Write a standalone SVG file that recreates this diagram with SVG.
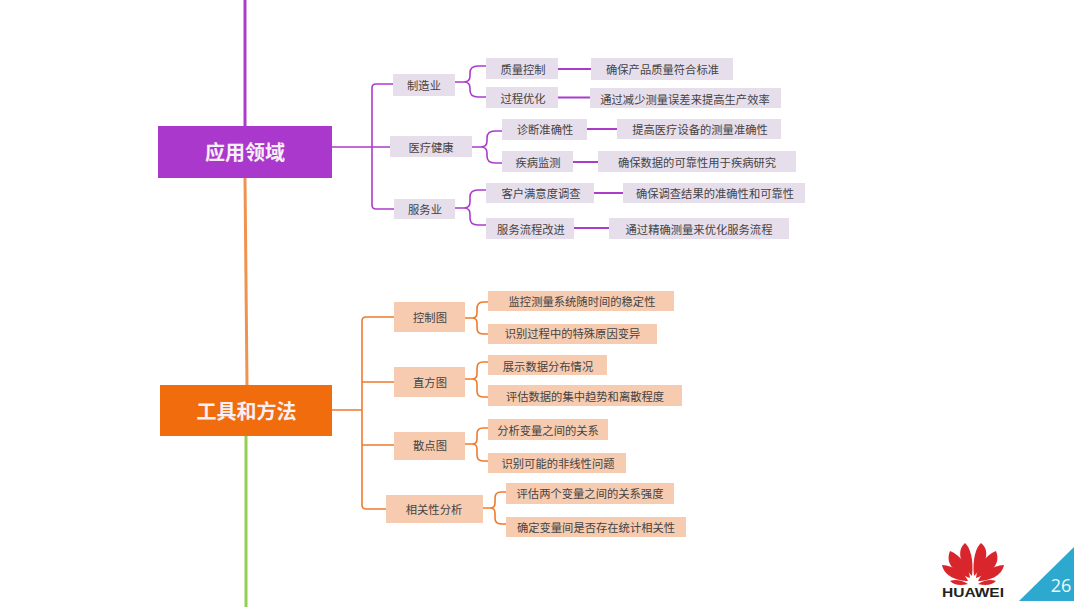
<svg xmlns="http://www.w3.org/2000/svg" width="1080" height="607" viewBox="0 0 1080 607">
<style>
text{font-family:"Noto Sans CJK SC","Liberation Sans",sans-serif;text-anchor:middle;dominant-baseline:central}
.p rect{fill:#e7deec}.o rect{fill:#f6cbb0}
.n text{font-size:11.3px;fill:#444;transform:translateY(-0.5px)}
.m text{font-size:20px;font-weight:700;fill:#f6f0f6}
.c{fill:none;stroke-linejoin:round}
.cp{stroke:#ab3ccb;stroke-width:1.6}.co{stroke:#ee7a2e;stroke-width:1.6}
.pth{stroke-width:2}
</style>
<rect width="1080" height="607" fill="#fff"/>
<g id="connectors">
<path class="c" d="M245 0V126" stroke="#ab3ccb" stroke-width="3"/>
<path class="c" d="M245 178L247 385" stroke="#f0934f" stroke-width="3"/>
<path class="c" d="M246 436V607" stroke="#94cf55" stroke-width="3"/>
<g class="c cp">
<path d="M332 147H390M393 84H376Q372 84 372 88V205Q372 209 376 209H394"/>
<path d="M455 82H464Q470 82 470 76V73Q470 66 478 66H486M464 82Q470 82 470 88V90Q470 97 478 97H486"/>
<path d="M472 147H481Q487 147 487 141V138Q487 131 495 131H502M481 147Q487 147 487 153V156Q487 163 495 163H502"/>
<path d="M455 208H464Q470 208 470 202V197Q470 190 478 190H486M464 208Q470 208 470 214V218Q470 225 478 225H486"/>
<path class="pth" d="M558 69H591M558 97.500H590M587 129H617M573 162H598M594 193H623M574 228H609"/>
</g>
<g class="c co">
<path d="M332 410H362M394 317H366Q362 317 362 321V505Q362 509 366 509H386M362 382H394M362 445H394"/>
<path d="M465 318H472Q477 318 477 313V309Q477 302 483 302H488M472 318Q477 318 477 323V328Q477 334 483 334H488"/>
<path d="M465 379H472Q477 379 477 374V368Q477 362 483 362H488M472 379Q477 379 477 384V391Q477 397 483 397H488"/>
<path d="M465 444H472Q477 444 477 439V434Q477 428 483 428H488M472 444Q477 444 477 449V455Q477 461 483 461H488"/>
<path d="M483 508H490Q495 508 495 503V498Q495 492 501 492H506M490 508Q495 508 495 513V518Q495 524 501 524H506"/>
</g>
</g>
<g id="root-app" class="m"><rect x="158" y="126" width="174" height="52" fill="#ab38cc"/><text x="245" y="151">应用领域</text></g>
<g id="root-tools" class="m"><rect x="160" y="385" width="172" height="51" fill="#f06c0c"/><text x="246.500" y="410">工具和方法</text></g>
<g id="n1" class="n p"><rect x="393" y="74" width="62" height="22"/><text x="424" y="85">制造业</text></g>
<g id="n2" class="n p"><rect x="486" y="58" width="72" height="21"/><text x="523" y="69">质量控制</text></g>
<g id="n3" class="n p"><rect x="591" y="58" width="142" height="22"/><text x="662.500" y="69">确保产品质量符合标准</text></g>
<g id="n4" class="n p"><rect x="486" y="87" width="72" height="21"/><text x="523" y="98">过程优化</text></g>
<g id="n5" class="n p"><rect x="590" y="88" width="191" height="20"/><text x="685" y="99">通过减少测量误差来提高生产效率</text></g>
<g id="n6" class="n p"><rect x="390" y="136" width="82" height="21"/><text x="431" y="147">医疗健康</text></g>
<g id="n7" class="n p"><rect x="502" y="119" width="85" height="21"/><text x="545" y="129">诊断准确性</text></g>
<g id="n8" class="n p"><rect x="617" y="119" width="164" height="20"/><text x="700" y="129">提高医疗设备的测量准确性</text></g>
<g id="n9" class="n p"><rect x="502" y="151" width="71" height="21"/><text x="538" y="162">疾病监测</text></g>
<g id="n10" class="n p"><rect x="598" y="151" width="198" height="21"/><text x="697" y="162">确保数据的可靠性用于疾病研究</text></g>
<g id="n11" class="n p"><rect x="394" y="199" width="61" height="20"/><text x="425" y="209">服务业</text></g>
<g id="n12" class="n p"><rect x="486" y="183" width="108" height="20"/><text x="541" y="193">客户满意度调查</text></g>
<g id="n13" class="n p"><rect x="623" y="183" width="182" height="20"/><text x="715" y="193">确保调查结果的准确性和可靠性</text></g>
<g id="n14" class="n p"><rect x="486" y="218" width="88" height="21"/><text x="531" y="229">服务流程改进</text></g>
<g id="n15" class="n p"><rect x="609" y="218" width="180" height="21"/><text x="699" y="229">通过精确测量来优化服务流程</text></g>
<g id="t1" class="n o"><rect x="394" y="302" width="71" height="30"/><text x="430" y="317">控制图</text></g>
<g id="t2" class="n o"><rect x="488" y="291" width="186" height="20"/><text x="582" y="301">监控测量系统随时间的稳定性</text></g>
<g id="t3" class="n o"><rect x="488" y="324" width="169" height="20"/><text x="572.500" y="333">识别过程中的特殊原因变异</text></g>
<g id="t4" class="n o"><rect x="394" y="367" width="71" height="30"/><text x="430" y="382">直方图</text></g>
<g id="t5" class="n o"><rect x="488" y="355" width="119" height="20"/><text x="548" y="366">展示数据分布情况</text></g>
<g id="t6" class="n o"><rect x="488" y="385" width="194" height="21"/><text x="585" y="396">评估数据的集中趋势和离散程度</text></g>
<g id="t7" class="n o"><rect x="394" y="432" width="71" height="28"/><text x="430" y="445">散点图</text></g>
<g id="t8" class="n o"><rect x="488" y="419" width="120" height="21"/><text x="548" y="430">分析变量之间的关系</text></g>
<g id="t9" class="n o"><rect x="488" y="453" width="138" height="20"/><text x="558" y="463">识别可能的非线性问题</text></g>
<g id="t10" class="n o"><rect x="386" y="495" width="97" height="28"/><text x="434" y="509">相关性分析</text></g>
<g id="t11" class="n o"><rect x="506" y="483" width="168" height="21"/><text x="590" y="493">评估两个变量之间的关系强度</text></g>
<g id="t12" class="n o"><rect x="506" y="517" width="180" height="20"/><text x="596" y="527">确定变量间是否存在统计相关性</text></g>
<g id="logo">
<g fill="#d9262c">
<path d="M972 576C962 566 955 552 965 543C970 547 974 560 972 576Z"/>
<path d="M974 576C984 566 992 552 981 543C976 547 972 560 974 576Z"/>
<path d="M970 578C958 574 944 566 950 551C960 555 969 566 970 578Z"/>
<path d="M976 578C988 574 1002 566 996 551C986 555 977 566 976 578Z"/>
<path d="M968 581C957 581 944 576 942 565C954 566 964 572 968 581Z"/>
<path d="M978 581C989 581 1002 576 1004 565C992 566 982 572 978 581Z"/>
<path d="M968 584C960 586 954 585 950 581C955 579 962 580 968 584Z"/>
<path d="M978 584C986 586 992 585 996 581C991 579 984 580 978 584Z"/>
</g>
<text x="973" y="593" textLength="62" lengthAdjust="spacingAndGlyphs" style="font-family:'Liberation Sans',sans-serif;font-size:12.500px;font-weight:700;fill:#222">HUAWEI</text>
</g>
<g id="page"><path d="M1074 547V601H1019Z" fill="#2da9cf"/><text x="1061" y="585" style="font-family:'Open Sans',sans-serif;font-size:18px;fill:#eef8fb">26</text></g>
</svg>
